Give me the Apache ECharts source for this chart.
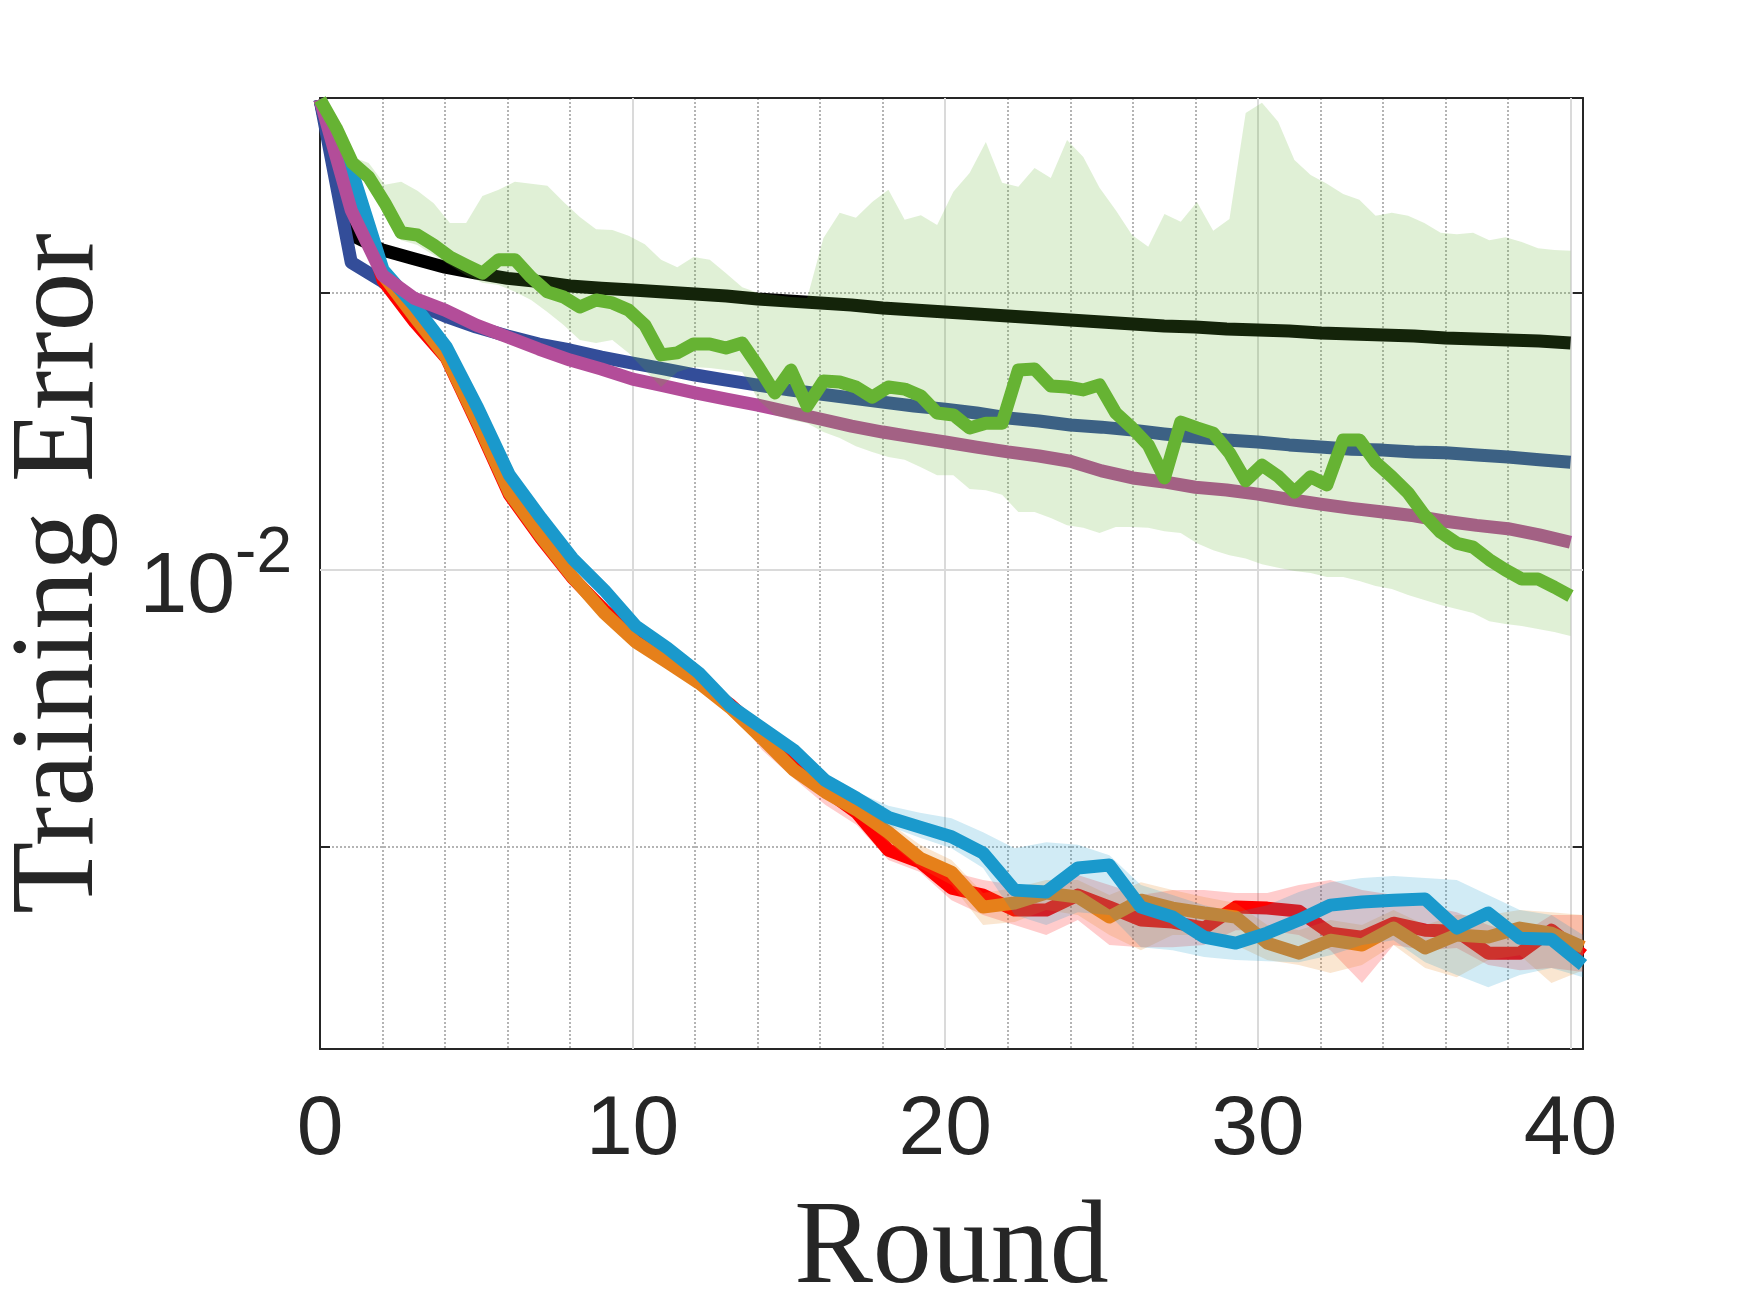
<!DOCTYPE html>
<html>
<head>
<meta charset="utf-8">
<script src="https://cdn.jsdelivr.net/npm/echarts@6.0.0/dist/echarts.min.js"></script>
<style>
html, body { margin: 0; padding: 0; background: #fff; }
#chart { width: 1750px; height: 1313px; }
</style>
</head>
<body>
<div id="chart"></div>
<script>
// sampling grids (rounds) of the three kinds of runs
const rounds = Array.from({length: 41}, (_, i) => i);
const roundsB = Array.from({length: 41}, (_, i) => i * 40.4 / 40);
const roundsG = Array.from({length: 78}, (_, k) => k * 40 / 77);
const xTicks = [0, 10, 20, 30, 40];

// training error
const blackErr = [0.5, 0.162, 0.143, 0.133, 0.124, 0.118, 0.113, 0.110, 0.106, 0.104, 0.1025, 0.1008, 0.0992, 0.0975, 0.0951, 0.0936, 0.0920, 0.0905, 0.0883, 0.0868, 0.0854, 0.0840, 0.0826, 0.0813, 0.0799, 0.0786, 0.0773, 0.0760, 0.0754, 0.0741, 0.0735, 0.0729, 0.0717, 0.0711, 0.0705, 0.0700, 0.0688, 0.0682, 0.0677, 0.0671, 0.0660];
const blueErr = [0.5, 0.129, 0.110, 0.0920, 0.0826, 0.0754, 0.0700, 0.0654, 0.0623, 0.0587, 0.0559, 0.0532, 0.0506, 0.0485, 0.0465, 0.0447, 0.0432, 0.0418, 0.0404, 0.0391, 0.0381, 0.0369, 0.0354, 0.0345, 0.0334, 0.0328, 0.0320, 0.0310, 0.0302, 0.0295, 0.0290, 0.0283, 0.0278, 0.0273, 0.0271, 0.0267, 0.0265, 0.0260, 0.0256, 0.0250, 0.0245];
const magentaErr = [0.5, 0.199, 0.116, 0.0959, 0.0868, 0.0766, 0.0694, 0.0628, 0.0573, 0.0532, 0.0489, 0.0462, 0.0436, 0.0414, 0.0394, 0.0372, 0.0351, 0.0331, 0.0315, 0.0302, 0.0290, 0.0278, 0.0267, 0.0258, 0.0247, 0.0228, 0.0215, 0.0208, 0.0199, 0.01945, 0.0188, 0.0180, 0.0173, 0.0167, 0.0162, 0.0157, 0.0150, 0.0145, 0.0141, 0.0134, 0.0126];

const redErr = [0.5, 0.260, 0.111, 0.0786, 0.0583, 0.0334, 0.0187, 0.0130, 0.00936, 0.00717, 0.00568, 0.00473, 0.00394, 0.00326, 0.00258, 0.00201, 0.00161, 0.00133, 0.000975, 0.000883, 0.000711, 0.000671, 0.000592, 0.000592, 0.000671, 0.000607, 0.000545, 0.000536, 0.000510, 0.000607, 0.000602, 0.000587, 0.000489, 0.000473, 0.000531, 0.000501, 0.000497, 0.000414, 0.000414, 0.000501, 0.000407];
const redUpper = [0.00339, 0.00269, 0.00210, 0.00169, 0.00141, 0.00108, 0.000959, 0.000812, 0.000760, 0.000729, 0.000729, 0.000792, 0.000729, 0.000671, 0.000699, 0.000699, 0.000682, 0.000682, 0.000729, 0.000760, 0.000699, 0.000671, 0.000617, 0.000582, 0.000523, 0.000481, 0.000568, 0.000568];
const redLower = [0.00312, 0.00224, 0.00177, 0.00142, 0.00120, 0.000897, 0.000812, 0.000643, 0.000568, 0.000523, 0.000481, 0.000545, 0.000443, 0.000435, 0.000435, 0.000443, 0.000501, 0.000501, 0.000481, 0.000424, 0.000323, 0.000443, 0.000424, 0.000432, 0.000375, 0.000359, 0.000366, 0.000354];
const redBandFrom = 13;

const orangeErr = [0.5, 0.267, 0.116, 0.0819, 0.0587, 0.0339, 0.0190, 0.0132, 0.00944, 0.00700, 0.00550, 0.00465, 0.00391, 0.00318, 0.00247, 0.00190, 0.00158, 0.00136, 0.00113, 0.000912, 0.000812, 0.000607, 0.000628, 0.000682, 0.000660, 0.000559, 0.000643, 0.000602, 0.000578, 0.000559, 0.000450, 0.000414, 0.000461, 0.000443, 0.000510, 0.000432, 0.000481, 0.000473, 0.000510, 0.000489, 0.000435];
const orangeUpper = [0.00142, 0.00123, 0.00102, 0.000897, 0.000682, 0.000711, 0.000760, 0.000760, 0.000671, 0.000747, 0.000699, 0.000660, 0.000628, 0.000523, 0.000501, 0.000545, 0.000523, 0.000592, 0.000523, 0.000568, 0.000568, 0.000592, 0.000582, 0.000568];
const orangeLower = [0.00130, 0.00104, 0.000840, 0.000729, 0.000523, 0.000536, 0.000592, 0.000568, 0.000481, 0.000424, 0.000481, 0.000481, 0.000443, 0.000391, 0.000375, 0.000351, 0.000375, 0.000443, 0.000366, 0.000339, 0.000391, 0.000407, 0.000323, 0.000359];
const orangeBandFrom = 17;

const cyanErr = [0.5, 0.278, 0.121, 0.0898, 0.0639, 0.0384, 0.0220, 0.0154, 0.0110, 0.00847, 0.00628, 0.00523, 0.00425, 0.00323, 0.00269, 0.00224, 0.00174, 0.00150, 0.00128, 0.00118, 0.00109, 0.000951, 0.000699, 0.000688, 0.000840, 0.000861, 0.000607, 0.000559, 0.000473, 0.000450, 0.000489, 0.000545, 0.000617, 0.000633, 0.000643, 0.000649, 0.000510, 0.000578, 0.000469, 0.000465, 0.000375];
const cyanUpper = [0.00233, 0.00182, 0.00158, 0.00141, 0.00133, 0.00127, 0.00113, 0.000991, 0.00104, 0.00102, 0.000935, 0.000729, 0.000671, 0.000617, 0.000582, 0.000617, 0.000688, 0.000747, 0.000773, 0.000786, 0.000773, 0.000760, 0.000671, 0.000592, 0.000568, 0.000481];
const cyanLower = [0.00215, 0.00165, 0.00141, 0.00119, 0.00108, 0.000991, 0.000840, 0.000568, 0.000523, 0.000582, 0.000568, 0.000435, 0.000424, 0.000401, 0.000391, 0.000387, 0.000384, 0.000407, 0.000443, 0.000461, 0.000384, 0.000345, 0.000312, 0.000345, 0.000366, 0.000339];
const cyanBandFrom = 15;

const greenErr = [0.5, 0.394, 0.295, 0.262, 0.211, 0.165, 0.162, 0.149, 0.135, 0.126, 0.118, 0.132, 0.132, 0.114, 0.101, 0.0968, 0.0891, 0.0944, 0.0921, 0.0869, 0.0767, 0.0598, 0.0608, 0.0655, 0.0655, 0.0633, 0.0660, 0.0541, 0.0436, 0.0527, 0.0391, 0.0481, 0.0477, 0.0458, 0.0421, 0.0458, 0.0450, 0.0425, 0.0369, 0.0363, 0.0326, 0.0339, 0.0339, 0.0527, 0.0532, 0.0462, 0.0458, 0.0447, 0.0466, 0.0369, 0.0326, 0.0283, 0.0215, 0.0342, 0.0326, 0.0312, 0.0265, 0.0210, 0.0239, 0.0218, 0.0191, 0.0217, 0.0203, 0.0295, 0.0295, 0.0245, 0.0217, 0.0190, 0.0158, 0.0137, 0.0125, 0.0121, 0.0109, 0.0100, 0.00928, 0.00928, 0.00868, 0.00806];
const greenUpper = [0.5, 0.404, 0.310, 0.295, 0.246, 0.252, 0.234, 0.211, 0.179, 0.179, 0.224, 0.236, 0.252, 0.248, 0.244, 0.213, 0.188, 0.170, 0.169, 0.161, 0.150, 0.132, 0.124, 0.135, 0.132, 0.118, 0.105, 0.100, 0.0984, 0.0968, 0.0960, 0.158, 0.195, 0.187, 0.213, 0.236, 0.184, 0.191, 0.176, 0.232, 0.271, 0.351, 0.250, 0.242, 0.283, 0.260, 0.357, 0.310, 0.240, 0.199, 0.162, 0.147, 0.193, 0.181, 0.213, 0.168, 0.185, 0.447, 0.486, 0.415, 0.302, 0.267, 0.248, 0.228, 0.217, 0.190, 0.195, 0.190, 0.179, 0.165, 0.163, 0.165, 0.155, 0.159, 0.153, 0.145, 0.143, 0.142];
const greenLower = [0.5, 0.381, 0.283, 0.252, 0.199, 0.155, 0.149, 0.137, 0.126, 0.116, 0.109, 0.107, 0.101, 0.0944, 0.0854, 0.0767, 0.0677, 0.0660, 0.0677, 0.0608, 0.0527, 0.0458, 0.0519, 0.0541, 0.0536, 0.0527, 0.0519, 0.0411, 0.0363, 0.0348, 0.0339, 0.0315, 0.0300, 0.0280, 0.0267, 0.0256, 0.0250, 0.0235, 0.0220, 0.0220, 0.0196, 0.0194, 0.0187, 0.0162, 0.0162, 0.0154, 0.0145, 0.0142, 0.0136, 0.0143, 0.0143, 0.0142, 0.0138, 0.0136, 0.0125, 0.0118, 0.0113, 0.0110, 0.0105, 0.0102, 0.00992, 0.00975, 0.00944, 0.00944, 0.00913, 0.00876, 0.00854, 0.00812, 0.00779, 0.00748, 0.00723, 0.00700, 0.00654, 0.00638, 0.00628, 0.00612, 0.00597, 0.00578];

const axisColor = '#262626';
const tickFont = "'Liberation Sans', Arial, sans-serif";
const titleFont = "'Liberation Serif', 'Times New Roman', serif";
const yMin = 1.866e-4, yMax = 0.506;

function pairs(xs, ys) {
    return ys.map((y, i) => [xs[i], y]);
}

function line(xs, ys, color, extra) {
    return Object.assign({
        type: 'line',
        data: pairs(xs, ys),
        symbol: 'none',
        silent: true,
        lineStyle: { color: color, width: 13, join: 'round' }
    }, extra || {});
}

// shaded spread between lower and upper, as one polygon through the axes' coords
function band(xs, lower, upper, color) {
    return {
        type: 'custom',
        silent: true,
        data: [[xs[0], lower[0]]],
        renderItem: function (params, api) {
            const pts = [];
            for (let i = 0; i < upper.length; i++) pts.push(api.coord([xs[i], upper[i]]));
            for (let i = lower.length - 1; i >= 0; i--) pts.push(api.coord([xs[i], lower[i]]));
            return { type: 'polygon', shape: { points: pts }, style: { fill: color } };
        }
    };
}

const gridMarks = {
    silent: true,
    z: 1,
    symbol: ['none', 'none'],
    label: { show: false },
    animation: false,
    lineStyle: { color: '#dadada', width: 2, type: 'solid' },
    data: [{ xAxis: 10 }, { xAxis: 20 }, { xAxis: 30 }, { xAxis: 40 }, { yAxis: 0.01 }]
};

// drawing order as in the figure: each shade, then its line
const series = [
    line(rounds, blackErr, '#000000', { markLine: gridMarks }),
    line(rounds, blueErr, '#334D99'),
    band(roundsB.slice(redBandFrom), redLower, redUpper, 'rgba(255,0,0,0.2)'),
    line(roundsB, redErr, '#FF0000'),
    band(roundsB.slice(orangeBandFrom), orangeLower, orangeUpper, 'rgba(230,128,26,0.2)'),
    line(roundsB, orangeErr, '#E6801A'),
    band(roundsB.slice(cyanBandFrom), cyanLower, cyanUpper, 'rgba(26,153,204,0.2)'),
    line(roundsB, cyanErr, '#1A99CC'),
    line(rounds, magentaErr, '#B34D99'),
    band(roundsG, greenLower, greenUpper, 'rgba(102,179,51,0.2)'),
    line(roundsG, greenErr, '#66B333')
];
series.forEach((s, i) => { s.z = 2 + i; });

const edgeLine = { show: true, onZero: false, lineStyle: { color: axisColor, width: 2 } };
const inTick = { show: true, inside: true, length: 12, lineStyle: { color: axisColor, width: 2 } };
const dotted = { show: true, lineStyle: { color: '#b4b4b4', width: 2, type: [2, 2] } };

var myChart = echarts.init(document.getElementById('chart'));
myChart.setOption({
    animation: false,
    backgroundColor: '#ffffff',
    grid: { left: 320, right: 167, top: 98, bottom: 264, outerBoundsMode: 'none' },
    xAxis: [
        {
            type: 'value', min: 0, max: 40.4, interval: 2, position: 'bottom',
            name: 'Round', nameLocation: 'middle', nameGap: 143, nameMoveOverlap: false,
            nameTextStyle: { fontFamily: titleFont, fontSize: 118, color: axisColor },
            axisLine: edgeLine,
            axisTick: { show: false },
            axisLabel: {
                margin: 40, fontFamily: tickFont, fontSize: 84, color: axisColor,
                hideOverlap: false,
                formatter: v => xTicks.includes(v) ? String(v) : ''
            },
            splitLine: dotted
        },
        {
            type: 'value', min: 0, max: 40.4, interval: 10, position: 'top',
            axisLine: edgeLine, axisTick: inTick, axisLabel: { show: false }, splitLine: { show: false }
        },
        {
            type: 'value', min: 0, max: 40.4, interval: 10, position: 'bottom',
            axisLine: { show: false }, axisTick: inTick, axisLabel: { show: false }, splitLine: { show: false }
        }
    ],
    yAxis: [
        {
            type: 'log', logBase: 10, min: yMin, max: yMax, position: 'left',
            name: 'Training Error', nameLocation: 'middle', nameRotate: 90, nameGap: 200, nameMoveOverlap: false,
            nameTextStyle: { fontFamily: titleFont, fontSize: 118, color: axisColor },
            axisLine: edgeLine,
            axisTick: { show: true, inside: true, length: 10, lineStyle: { color: axisColor, width: 2 } },
            axisLabel: {
                margin: 28, color: axisColor, hideOverlap: false,
                padding: [36, 0, 0, 0],
                formatter: v => Math.abs(Math.log10(v) + 2) < 1e-6 ? '{b|10}{s|-2}' : '',
                rich: {
                    b: { fontFamily: tickFont, fontSize: 86, color: axisColor, lineHeight: 86, verticalAlign: 'bottom' },
                    s: { fontFamily: tickFont, fontSize: 64, color: axisColor, lineHeight: 64, padding: [0, 0, 45, 0], verticalAlign: 'bottom' }
                }
            },
            splitLine: dotted
        },
        {
            type: 'log', logBase: 10, min: yMin, max: yMax, position: 'right',
            axisLine: edgeLine,
            axisTick: { show: true, inside: true, length: 10, lineStyle: { color: axisColor, width: 2 } },
            axisLabel: { show: false }, splitLine: { show: false }
        }
    ],
    series: series
});
</script>
</body>
</html>
